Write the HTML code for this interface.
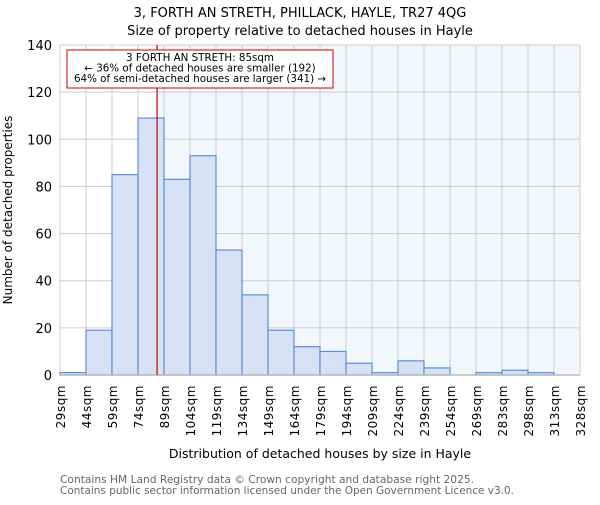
<!DOCTYPE html>
<html><head><meta charset="utf-8"><style>
body{margin:0;background:#fff;}
svg{font-family:"DejaVu Sans","Liberation Sans",sans-serif;}
</style></head><body>
<svg id="chart" width="600" height="500">
<text x="300" y="17" font-size="13" text-anchor="middle">3, FORTH AN STRETH, PHILLACK, HAYLE, TR27 4QG</text>
<text x="300" y="35" font-size="13" text-anchor="middle">Size of property relative to detached houses in Hayle</text>
<g id="plot"></g>
<text x="320" y="458" font-size="12.5" text-anchor="middle">Distribution of detached houses by size in Hayle</text>
<text transform="translate(12,210) rotate(-90)" font-size="12" text-anchor="middle">Number of detached properties</text>
<text x="60" y="483" font-size="11" fill="#666" textLength="414" lengthAdjust="spacingAndGlyphs">Contains HM Land Registry data © Crown copyright and database right 2025.</text>
<text x="60" y="494" font-size="11" fill="#666" textLength="454" lengthAdjust="spacingAndGlyphs">Contains public sector information licensed under the Open Government Licence v3.0.</text>
</svg>
<script>
const binLabels=["29sqm","44sqm","59sqm","74sqm","89sqm","104sqm","119sqm","134sqm","149sqm","164sqm","179sqm","194sqm","209sqm","224sqm","239sqm","254sqm","269sqm","283sqm","298sqm","313sqm","328sqm"];
const counts=[1,19,85,109,83,93,53,34,19,12,10,5,1,6,3,0,1,2,1,0];
const yTicks=[0,20,40,60,80,100,120,140];
const propertySize=85;
const binStart=29, binWidth=15;
const NS="http://www.w3.org/2000/svg";
const L=60,R=580,T=45,B=375,yMax=140;
const n=counts.length;
const bw=(R-L)/n;
const xs=v=>L+(v-binStart)/binWidth*bw;
const ys=v=>B-(v/yMax)*(B-T);
const g=document.getElementById('plot');
function mk(t,a,p){const e=document.createElementNS(NS,t);for(const k in a)e.setAttribute(k,a[k]);(p||g).appendChild(e);return e;}
const px=xs(propertySize);
let bg=mk('rect',{x:px,y:T,width:R-px,height:B-T,fill:'#f2f6fd'});


for(let i=0;i<=n;i++){let l=mk('line',{x1:L+i*bw,x2:L+i*bw,y1:T,y2:B,stroke:'#cccccc','stroke-width':1});

}
yTicks.forEach(v=>{let l=mk('line',{x1:L,x2:R,y1:ys(v),y2:ys(v),stroke:'#cccccc','stroke-width':1});


let t=mk('text',{x:L-8,y:ys(v)+5,'font-size':13,'text-anchor':'end'});t.textContent=v;

});
counts.forEach((c,i)=>{if(c<=0)return;let r=mk('rect',{x:L+i*bw,y:ys(c),width:bw,height:B-ys(c),fill:'#d6e2f3',stroke:'#5b8fd9','stroke-width':1.2});

});
let ax=mk('line',{x1:L,x2:R,y1:B,y2:B,stroke:'#bbbbbb','stroke-width':1.5});


binLabels.forEach((s,i)=>{const x=L+i*bw;let t=mk('text',{transform:`translate(${x+5},${B+10}) rotate(-90)`,'font-size':12,'text-anchor':'end','letter-spacing':'0.5'});t.textContent=s;

});
let pl=mk('line',{x1:px,x2:px,y1:T,y2:B,stroke:'#cc0000','stroke-width':1.2});


let box=mk('rect',{x:67,y:50,width:266,height:38,fill:'#fff',stroke:'#cc0000','stroke-width':1});


["3 FORTH AN STRETH: 85sqm","← 36% of detached houses are smaller (192)","64% of semi-detached houses are larger (341) →"].forEach((s,i)=>{let t=mk('text',{x:200,y:61+i*10.5,'font-size':10.3,'text-anchor':'middle'});t.textContent=s;

});
</script>
</body></html>
